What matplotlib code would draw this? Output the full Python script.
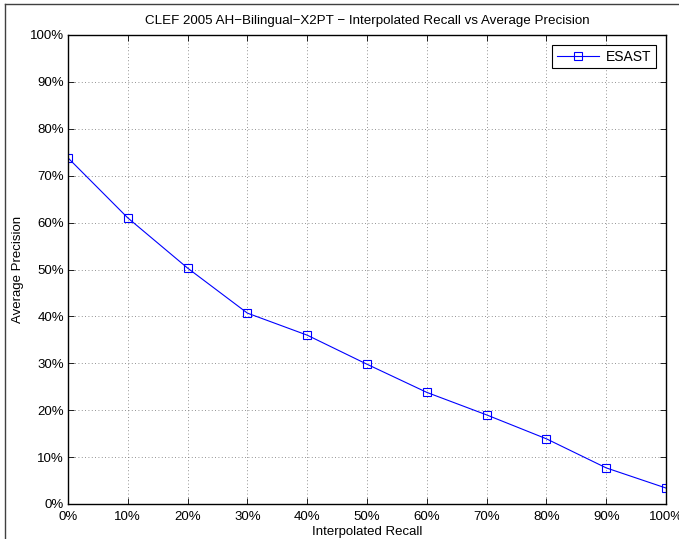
import matplotlib
matplotlib.use('Agg')
import matplotlib.pyplot as plt
from matplotlib.lines import Line2D
from matplotlib.ticker import FuncFormatter

recall = [0, 10, 20, 30, 40, 50, 60, 70, 80, 90, 100]
esast = [73.8, 61.0, 50.3, 40.7, 36.0, 29.8, 23.8, 19.0, 13.9, 7.7, 3.4]

plt.rcParams['font.family'] = ['Liberation Sans', 'DejaVu Sans']
plt.rcParams['font.size'] = 9.5

fig = plt.figure(figsize=(6.79, 5.39), dpi=100)
ax = fig.add_axes([68 / 679, 1 - 504 / 539, 598 / 679, 469 / 539])

ax.plot(recall, esast, color='#0000ff', lw=0.8, marker='s', ms=6,
        mfc='none', mec='#0000ff', mew=0.8, label='ESAST')

ax.set_xlim(0, 100)
ax.set_ylim(0, 100)
ax.set_xticks(range(0, 101, 10))
ax.set_yticks(range(0, 101, 10))
pct = FuncFormatter(lambda v, p: '%d%%' % v)
ax.xaxis.set_major_formatter(pct)
ax.yaxis.set_major_formatter(pct)
ax.tick_params(direction='in', length=4, width=0.6, top=True, right=True)
ax.tick_params(axis='x', pad=5)
ax.tick_params(axis='y', pad=3)
ax.grid(True, ls=(0, (1, 3)), color='#707070', lw=0.6)
for s in ax.spines.values():
    s.set_linewidth(1.0)

ax.set_xlabel('Interpolated Recall', labelpad=2)
ax.set_ylabel('Average Precision', labelpad=4)
ax.set_title('CLEF 2005 AH\u2212Bilingual\u2212X2PT \u2212 Interpolated Recall vs Average Precision',
             fontsize=9.6, pad=8)

leg = ax.legend(loc='upper right', fancybox=False, edgecolor='black',
                framealpha=1, borderaxespad=0.7, handlelength=3.0,
                handletextpad=0.5, borderpad=0.35, fontsize=10)
leg.get_frame().set_linewidth(0.8)

# outer frame of the cropped figure
fig.add_artist(Line2D([5 / 679, 5 / 679], [0, 1 - 4 / 539], color='#404040', lw=1))
fig.add_artist(Line2D([5 / 679, 1], [1 - 4 / 539, 1 - 4 / 539], color='#404040', lw=1))

fig.savefig('out.png', dpi=100)
